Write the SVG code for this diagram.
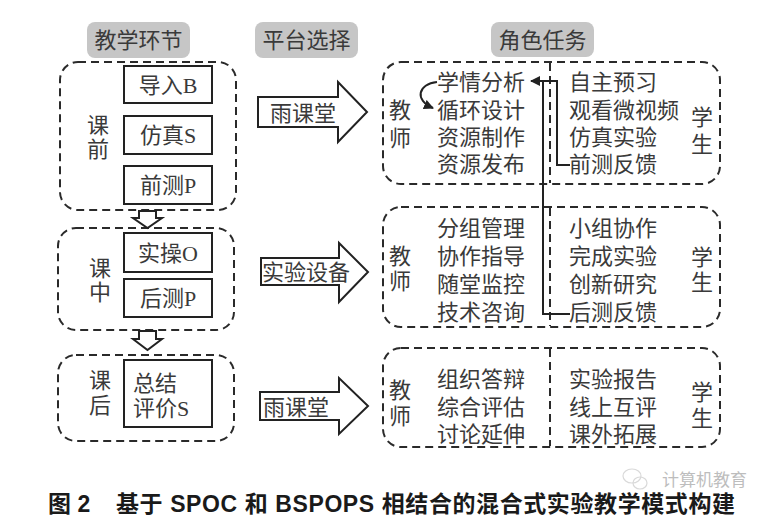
<svg xmlns="http://www.w3.org/2000/svg" width="780" height="526" viewBox="0 0 780 526">
<defs>
<style>
.t{font-family:"Liberation Serif","Noto Sans CJK SC",serif;font-size:22px;fill:#3a3a3a;dominant-baseline:central}
.c{text-anchor:middle}
.dash{fill:none;stroke:#2a2a2a;stroke-width:2;stroke-dasharray:8 5}
.box{fill:#fff;stroke:#222;stroke-width:2}
.hdr{fill:#c6c6c6}
.arr{fill:#fff;stroke:#222;stroke-width:2;stroke-linejoin:miter}
.ln{fill:none;stroke:#222;stroke-width:2}
.cap{font-family:"Liberation Sans","Noto Sans CJK SC",sans-serif;font-size:23px;font-weight:bold;fill:#1a1a1a;dominant-baseline:central}
</style>
<marker id="ah" viewBox="0 0 10 10" refX="9" refY="5" markerWidth="5" markerHeight="5" orient="auto">
<path d="M0,0 L10,5 L0,10 z" fill="#222"/>
</marker>
</defs>
<rect width="780" height="526" fill="#fff"/>

<g id="headers">
<rect class="hdr" x="87" y="22" width="103" height="36" rx="8"/>
<text class="t c" x="138.5" y="40">教学环节</text>
<rect class="hdr" x="255" y="22" width="103" height="36" rx="8"/>
<text class="t c" x="306.5" y="40">平台选择</text>
<rect class="hdr" x="491" y="22" width="103" height="35" rx="8"/>
<text class="t c" x="542.5" y="40">角色任务</text>
</g>

<g id="stage-pre">
<rect class="dash" x="60" y="62" width="176" height="148" rx="18"/>
<text class="t c" x="98" y="125">课</text>
<text class="t c" x="98" y="149">前</text>
<g id="node-B"><rect class="box" x="124" y="66" width="88" height="37"/><text class="t c" x="168" y="85">导入B</text></g>
<g id="node-S1"><rect class="box" x="124" y="116" width="88" height="38"/><text class="t c" x="168" y="135">仿真S</text></g>
<g id="node-P1"><rect class="box" x="124" y="166" width="88" height="38"/><text class="t c" x="168" y="185">前测P</text></g>
</g>

<g id="stage-in">
<rect class="dash" x="58" y="228" width="176" height="102" rx="18"/>
<text class="t c" x="100" y="268">课</text>
<text class="t c" x="100" y="292">中</text>
<g id="node-O"><rect class="box" x="124" y="233" width="88" height="39"/><text class="t c" x="168" y="253">实操O</text></g>
<g id="node-P2"><rect class="box" x="124" y="279" width="88" height="38"/><text class="t c" x="168" y="298">后测P</text></g>
</g>

<g id="stage-post">
<rect class="dash" x="58" y="355" width="176" height="86" rx="18"/>
<text class="t c" x="100" y="380">课</text>
<text class="t c" x="100" y="405">后</text>
<g id="node-S2"><rect class="box" x="124" y="360" width="88" height="67"/>
<text class="t" x="133" y="383">总结</text>
<text class="t" x="133" y="408">评价S</text></g>
</g>

<g id="platform-1">
<polygon class="arr" points="258,97 338,97 338,82 367,112 338,142 338,127 258,127"/>
<text class="t" x="270" y="113">雨课堂</text>
</g>
<g id="platform-2">
<polygon class="arr" points="261,258 339,258 339,243 368,272 339,302 339,285 261,285"/>
<text class="t" x="262" y="272">实验设备</text>
</g>
<g id="platform-3">
<polygon class="arr" points="260,392 339,392 339,378 368,406 339,434 339,420 260,420"/>
<text class="t" x="263" y="407">雨课堂</text>
</g>

<g id="roles-pre">
<rect class="dash" x="383" y="62" width="337" height="122" rx="18"/>
<line class="dash" x1="550" y1="63" x2="550" y2="183"/>
<text class="t c" x="400" y="110">教</text>
<text class="t c" x="400" y="138">师</text>
<text class="t" x="437" y="82">学情分析</text>
<text class="t" x="437" y="110">循环设计</text>
<text class="t" x="437" y="137">资源制作</text>
<text class="t" x="437" y="164">资源发布</text>
<text class="t" x="569" y="82">自主预习</text>
<text class="t" x="569" y="110">观看微视频</text>
<text class="t" x="569" y="137">仿真实验</text>
<text class="t" x="569" y="164">前测反馈</text>
<text class="t c" x="702" y="117">学</text>
<text class="t c" x="702" y="144">生</text>
</g>

<g id="roles-in">
<rect class="dash" x="383" y="207" width="337" height="120" rx="18"/>
<line class="dash" x1="550" y1="208" x2="550" y2="326"/>
<text class="t c" x="400" y="256">教</text>
<text class="t c" x="400" y="281">师</text>
<text class="t" x="437" y="228">分组管理</text>
<text class="t" x="437" y="256">协作指导</text>
<text class="t" x="437" y="284">随堂监控</text>
<text class="t" x="437" y="312">技术咨询</text>
<text class="t" x="569" y="228">小组协作</text>
<text class="t" x="569" y="256">完成实验</text>
<text class="t" x="569" y="284">创新研究</text>
<text class="t" x="569" y="312">后测反馈</text>
<text class="t c" x="702" y="257">学</text>
<text class="t c" x="702" y="282">生</text>
</g>

<g id="roles-post">
<rect class="dash" x="383" y="348" width="337" height="99" rx="18"/>
<line class="dash" x1="550" y1="349" x2="550" y2="446"/>
<text class="t c" x="400" y="390">教</text>
<text class="t c" x="400" y="416">师</text>
<text class="t" x="437" y="379">组织答辩</text>
<text class="t" x="437" y="407">综合评估</text>
<text class="t" x="437" y="434">讨论延伸</text>
<text class="t" x="569" y="379">实验报告</text>
<text class="t" x="569" y="407">线上互评</text>
<text class="t" x="569" y="434">课外拓展</text>
<text class="t c" x="702" y="392">学</text>
<text class="t c" x="702" y="418">生</text>
</g>

<g id="connectors">
<polygon class="arr" points="139,211 156,211 156,218 162,218 147.5,228 133,218 139,218"/>
<polygon class="arr" points="139,331 156,331 156,339 162,339 147.5,350 133,339 139,339"/>
<path class="ln" d="M437,82 C418,84 414,100 433,108" marker-end="url(#ah)"/>
<path class="ln" d="M570,165 H557 V81 H531" marker-end="url(#ah)"/>
<path class="ln" d="M570,314 H543 V81"/>
</g>

<g id="caption">
<text class="cap" x="48" y="504">图 2</text>
<text class="cap" x="116" y="504" textLength="619" lengthAdjust="spacing">基于 SPOC 和 BSPOPS 相结合的混合式实验教学模式构建</text>
</g>

<g id="watermark" opacity="0.55">
<ellipse cx="632" cy="476" rx="9" ry="7" fill="none" stroke="#bbb" stroke-width="1.2"/>
<ellipse cx="640" cy="483" rx="7" ry="6" fill="none" stroke="#bbb" stroke-width="1.2"/>
<text x="662" y="478" style="font-family:'Noto Sans CJK SC',sans-serif;font-size:17px;fill:#888;dominant-baseline:central">计算机教育</text>
</g>
</svg>
